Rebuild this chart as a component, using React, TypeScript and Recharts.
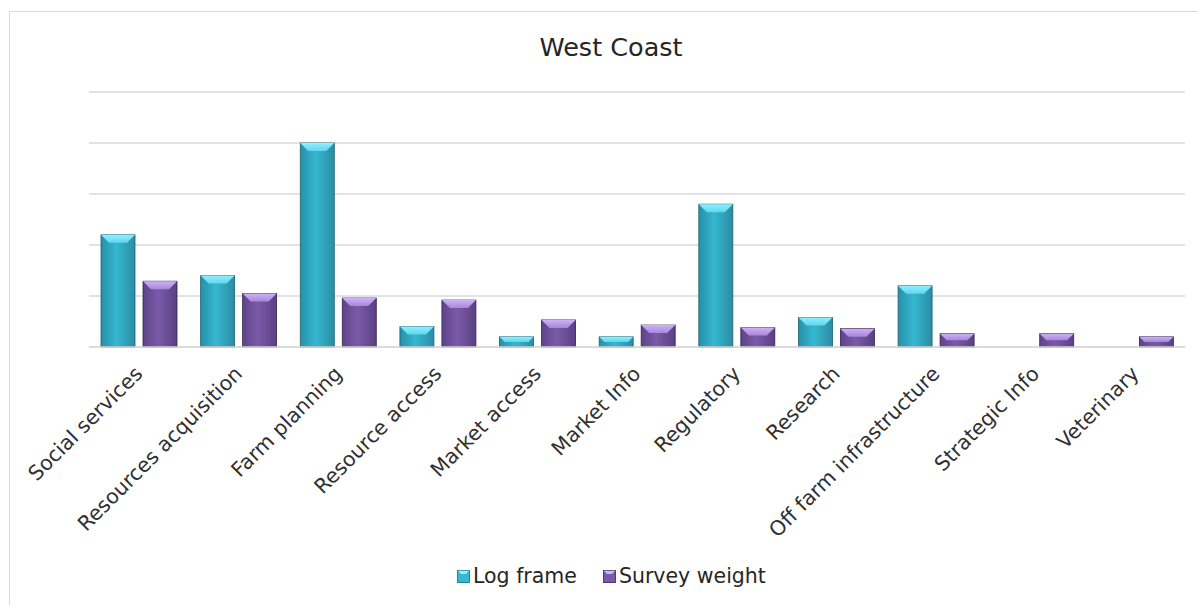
import React from 'react';
import { BarChart, Bar, XAxis, YAxis, CartesianGrid } from 'recharts';

const categories = [
  'Social services',
  'Resources acquisition',
  'Farm planning',
  'Resource access',
  'Market access',
  'Market Info',
  'Regulatory',
  'Research',
  'Off farm infrastructure',
  'Strategic Info',
  'Veterinary',
];
const logFrame = [11, 7, 20, 2, 1, 1, 14, 2.9, 6, 0, 0];
const surveyWeight = [6.45, 5.25, 4.8, 4.6, 2.65, 2.15, 1.9, 1.8, 1.3, 1.3, 1.0];
const yTicks = [0, 5, 10, 15, 20, 25];

const data = categories.map((name, i) => ({ name, log: logFrame[i], survey: surveyWeight[i] }));

const W = 1198;
const H = 605;
const FONT = '"DejaVu Sans", sans-serif';

type Palette = { id: string; left: string; mid: string; right: string; top: string; topHi: string; edge: string };
const teal: Palette = { id: 'teal', left: '#2690a8', mid: '#36b7d1', right: '#2a8da4', top: '#5fd6ec', topHi: '#8ff0ff', edge: '#1d5f6f' };
const purple: Palette = { id: 'purple', left: '#5f4489', mid: '#7a5aa8', right: '#5a4083', top: '#a986dc', topHi: '#cdb2f5', edge: '#34234f' };

// bar with a bevelled top, roughly like the office 3D bar look
const BevelBar = (props: any) => {
  const { x, y, width, height, pal } = props;
  if (!height || height <= 0.5) return null;
  const b = Math.min(8, height / 2, width / 4);
  return (
    <g>
      <rect x={x} y={y} width={width} height={height} fill={`url(#body-${pal.id})`} stroke={pal.edge} strokeWidth={0.8} />
      <polygon
        points={`${x},${y} ${x + width},${y} ${x + width - b},${y + b} ${x + b},${y + b}`}
        fill={`url(#top-${pal.id})`}
      />
    </g>
  );
};

const AngledTick = (props: any) => {
  const { x, y, payload } = props;
  const ax = x + 5;
  const ay = y + 20;
  return (
    <text
      x={ax}
      y={ay}
      transform={`rotate(-45 ${ax} ${ay})`}
      textAnchor="end"
      fontSize={20.5}
      fontFamily={FONT}
      fill="#303030"
    >
      {payload.value}
    </text>
  );
};

const LegendIcon = ({ pal }: { pal: Palette }) => (
  <svg width={13} height={13} style={{ marginRight: 3 }}>
    <rect x={0} y={0} width={13} height={13} fill={pal.mid} />
    <polygon points="0,0 13,0 9,4 4,4" fill={pal.topHi} />
    <rect x={0.5} y={0.5} width={12} height={12} fill="none" stroke={pal.edge} strokeWidth={0.6} />
  </svg>
);

export default function App() {
  return (
    <div style={{ position: 'fixed', left: 0, top: 0, width: W, height: H, background: '#fff', overflow: 'hidden', fontFamily: FONT }}>
      <div style={{ position: 'absolute', left: 9, top: 11, width: 1200, height: 700, border: '1px solid #d9d9d9', boxSizing: 'border-box' }} />
      <div style={{ position: 'absolute', left: 11, top: 32, width: 1200, textAlign: 'center', fontSize: 25.5, color: '#262626' }}>
        West Coast
      </div>
      <BarChart
        width={W}
        height={H}
        data={data}
        margin={{ top: 92, right: 13, left: 89, bottom: 108 }}
        barGap={8}
        barSize={34}
        style={{ position: 'absolute', left: 0, top: 0 }}
      >
        <defs>
          {[teal, purple].map((p) => (
            <linearGradient key={p.id} id={`body-${p.id}`} x1="0" y1="0" x2="1" y2="0">
              <stop offset="0%" stopColor={p.left} />
              <stop offset="45%" stopColor={p.mid} />
              <stop offset="100%" stopColor={p.right} />
            </linearGradient>
          ))}
          {[teal, purple].map((p) => (
            <linearGradient key={`t${p.id}`} id={`top-${p.id}`} x1="0" y1="0" x2="0" y2="1">
              <stop offset="0%" stopColor={p.topHi} />
              <stop offset="100%" stopColor={p.top} />
            </linearGradient>
          ))}
        </defs>
        <CartesianGrid vertical={false} stroke="#d9d9d9" strokeWidth={1.5} />
        <YAxis hide domain={[0, 25]} ticks={yTicks} />
        <XAxis
          dataKey="name"
          interval={0}
          height={150}
          tickLine={false}
          axisLine={{ stroke: '#d9d9d9', strokeWidth: 1.5 }}
          tick={<AngledTick />}
        />
        <Bar dataKey="log" name="Log frame" isAnimationActive={false} shape={(p: any) => <BevelBar {...p} pal={teal} />} />
        <Bar dataKey="survey" name="Survey weight" isAnimationActive={false} shape={(p: any) => <BevelBar {...p} pal={purple} />} />
      </BarChart>
      <div style={{ position: 'absolute', left: 457, top: 564, display: 'flex', alignItems: 'center', fontSize: 20.5, color: '#262626' }}>
        <LegendIcon pal={teal} />
        <span style={{ marginRight: 26 }}>Log frame</span>
        <LegendIcon pal={purple} />
        <span>Survey weight</span>
      </div>
    </div>
  );
}
